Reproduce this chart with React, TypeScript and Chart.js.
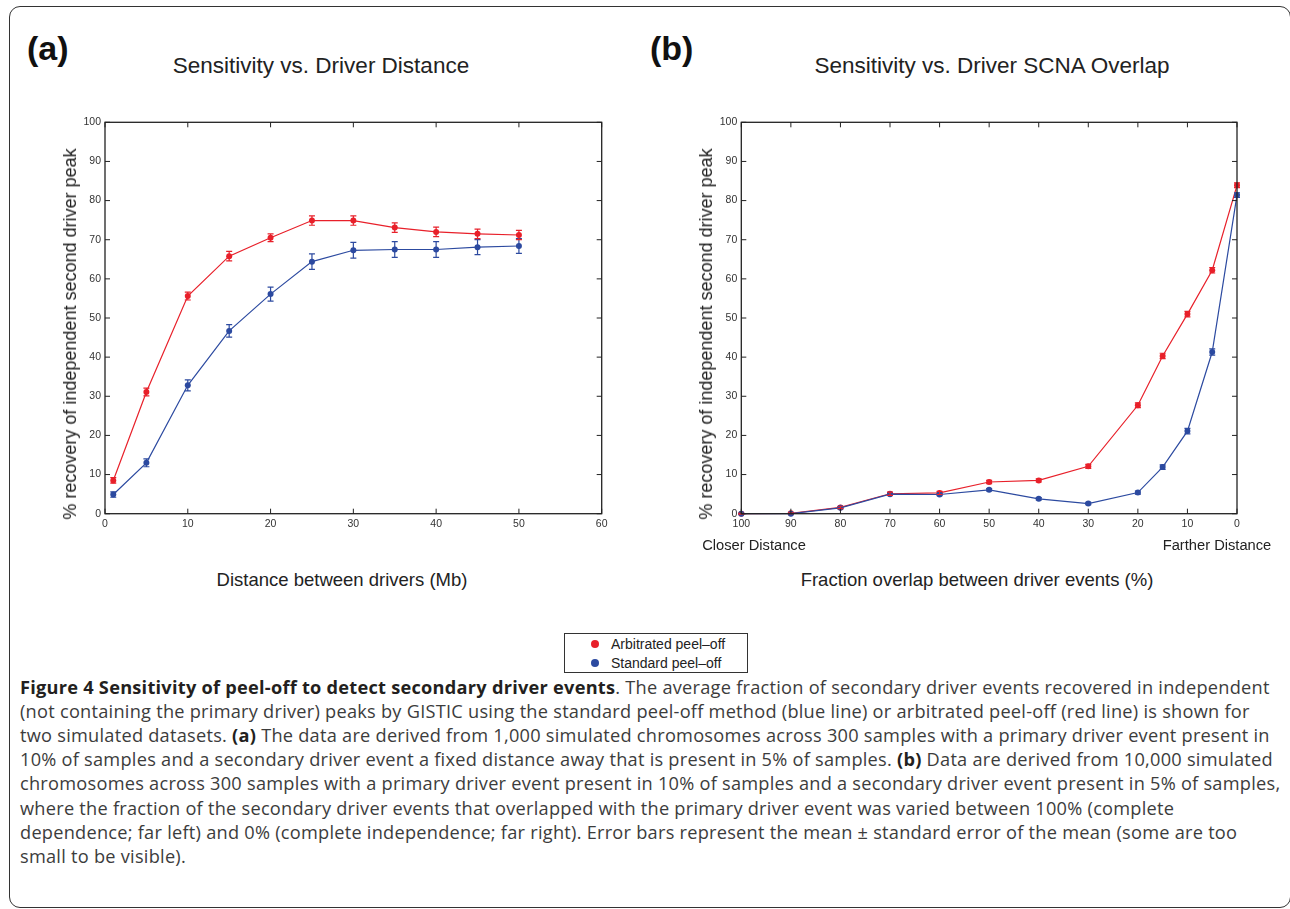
import React, { useEffect, useRef } from "react";
import { Chart, registerables } from "chart.js";

Chart.register(...registerables);

// ---------- data ----------
const distanceMb = [1, 5, 10, 15, 20, 25, 30, 35, 40, 45, 50];
const distArbitrated = [8.5, 31.1, 55.6, 65.8, 70.5, 74.9, 74.9, 73.1, 72.0, 71.5, 71.2];
const distArbitratedErr = [0.7, 1.0, 1.0, 1.2, 1.0, 1.2, 1.2, 1.2, 1.2, 1.2, 1.2];
const distStandard = [4.9, 13.0, 32.8, 46.7, 56.1, 64.4, 67.3, 67.5, 67.5, 68.1, 68.4];
const distStandardErr = [0.7, 1.0, 1.4, 1.6, 1.8, 2.0, 2.0, 2.0, 2.0, 1.9, 1.9];

const overlapPct = [100, 90, 80, 70, 60, 50, 40, 30, 20, 15, 10, 5, 0];
const overArbitrated = [0, 0.1, 1.6, 5.1, 5.3, 8.1, 8.5, 12.1, 27.7, 40.3, 51.0, 62.2, 83.9];
const overArbitratedErr = [0.1, 0.1, 0.3, 0.4, 0.4, 0.4, 0.4, 0.5, 0.6, 0.7, 0.7, 0.7, 0.6];
const overStandard = [0, 0, 1.5, 5.0, 4.9, 6.1, 3.8, 2.6, 5.4, 11.9, 21.1, 41.3, 81.4];
const overStandardErr = [0.1, 0.1, 0.3, 0.3, 0.3, 0.3, 0.3, 0.3, 0.4, 0.6, 0.7, 0.8, 0.6];

const seriesNames = ["Arbitrated peel\u2013off", "Standard peel\u2013off"];
const RED = "#e8202a";
const BLUE = "#2c4aa0";

const FONT = "'Liberation Sans', Arial, Helvetica, sans-serif";

const pairs = (xs: number[], ys: number[]) => xs.map((x, i) => ({ x, y: ys[i] }));

const matlabPlugin = {
  id: "matlabFrame",
  afterDatasetsDraw(chart: any) {
    const { ctx, scales } = chart;
    const x = scales.x;
    const y = scales.y;
    ctx.save();
    chart.data.datasets.forEach((ds: any) => {
      const errs: number[] = ds.errors;
      if (!errs) return;
      ctx.strokeStyle = ds.borderColor;
      ctx.lineWidth = 1.2;
      ds.data.forEach((p: any, j: number) => {
        const e = errs[j];
        const px = x.getPixelForValue(p.x);
        const y1 = y.getPixelForValue(p.y - e);
        const y2 = y.getPixelForValue(p.y + e);
        ctx.beginPath();
        ctx.moveTo(px, y1);
        ctx.lineTo(px, y2);
        ctx.moveTo(px - 3, y1);
        ctx.lineTo(px + 3, y1);
        ctx.moveTo(px - 3, y2);
        ctx.lineTo(px + 3, y2);
        ctx.stroke();
      });
    });
    ctx.restore();
  },
  afterDraw(chart: any) {
    const { ctx, chartArea: a, scales } = chart;
    ctx.save();
    ctx.strokeStyle = "#222";
    ctx.lineWidth = 1.3;
    ctx.strokeRect(a.left, a.top, a.right - a.left, a.bottom - a.top);
    ctx.lineWidth = 1;
    ctx.beginPath();
    scales.x.ticks.forEach((t: any) => {
      const px = scales.x.getPixelForValue(t.value);
      ctx.moveTo(px, a.bottom);
      ctx.lineTo(px, a.bottom - 5);
      ctx.moveTo(px, a.top);
      ctx.lineTo(px, a.top + 5);
    });
    scales.y.ticks.forEach((t: any) => {
      const py = scales.y.getPixelForValue(t.value);
      ctx.moveTo(a.left, py);
      ctx.lineTo(a.left + 5, py);
      ctx.moveTo(a.right, py);
      ctx.lineTo(a.right - 5, py);
    });
    ctx.stroke();
    ctx.restore();
  },
};

type PanelProps = {
  xs: number[];
  red: number[];
  redErr: number[];
  blue: number[];
  blueErr: number[];
  xMax: number;
  reverse: boolean;
  width: number;
  height: number;
  yAxisWidth: number;
  padRight: number;
  padTop: number;
  xAxisHeight: number;
};

function Panel(p: PanelProps) {
  const ref = useRef<HTMLCanvasElement>(null);
  useEffect(() => {
    if (!ref.current) return;
    const tickFont = { family: FONT, size: 10.5 };
    const chart = new Chart(ref.current, {
      type: "line",
      data: {
        datasets: [
          {
            label: seriesNames[1],
            data: pairs(p.xs, p.blue),
            errors: p.blueErr,
            borderColor: BLUE,
            backgroundColor: BLUE,
            pointBackgroundColor: BLUE,
            pointBorderWidth: 0,
            pointRadius: 3,
            borderWidth: 1.2,
            tension: 0,
            clip: false,
          } as any,
          {
            label: seriesNames[0],
            data: pairs(p.xs, p.red),
            errors: p.redErr,
            borderColor: RED,
            backgroundColor: RED,
            pointBackgroundColor: RED,
            pointBorderWidth: 0,
            pointRadius: 3,
            borderWidth: 1.2,
            tension: 0,
            clip: false,
          } as any,
        ],
      },
      options: {
        animation: false,
        responsive: false,
        maintainAspectRatio: false,
        layout: { padding: { left: 0, right: p.padRight, top: p.padTop, bottom: 0 } },
        plugins: { legend: { display: false }, tooltip: { enabled: false }, title: { display: false } },
        scales: {
          x: {
            type: "linear",
            min: 0,
            max: p.xMax,
            reverse: p.reverse,
            grid: { display: false, drawTicks: false },
            border: { display: false },
            ticks: { stepSize: 10, padding: 4, color: "#333", font: tickFont, maxRotation: 0, autoSkip: false },
            afterFit: (s: any) => {
              s.height = p.xAxisHeight;
            },
          },
          y: {
            type: "linear",
            min: 0,
            max: 100,
            grid: { display: false, drawTicks: false },
            border: { display: false },
            ticks: { stepSize: 10, padding: 4, color: "#333", font: tickFont },
            afterFit: (s: any) => {
              s.width = p.yAxisWidth;
            },
          },
        },
      } as any,
      plugins: [matlabPlugin],
    });
    return () => chart.destroy();
  }, []);
  return <canvas ref={ref} width={p.width} height={p.height} style={{ width: p.width, height: p.height, display: "block" }} />;
}

const abs = (left: number, top: number, extra: React.CSSProperties = {}): React.CSSProperties => ({
  position: "absolute",
  left,
  top,
  ...extra,
});

function CText(props: { x: number; y: number; size: number; children: React.ReactNode; rotate?: boolean; bold?: boolean; color?: string }) {
  return (
    <div
      style={{
        position: "absolute",
        left: props.x,
        top: props.y,
        transform: `translate(-50%, -50%)${props.rotate ? " rotate(-90deg)" : ""}`,
        fontFamily: FONT,
        fontSize: props.size,
        lineHeight: 1,
        whiteSpace: "nowrap",
        fontWeight: props.bold ? 700 : 400,
        color: props.color || "#222",
      }}
    >
      {props.children}
    </div>
  );
}

const B = (s: string) => <b style={{ color: "#231f20", fontWeight: 700 }}>{s}</b>;

const captionLines: React.ReactNode[] = [
  <>
    {B("Figure 4 Sensitivity of peel-off to detect secondary driver events")}. The average fraction of secondary driver events recovered in independent
  </>,
  <>(not containing the primary driver) peaks by GISTIC using the standard peel-off method (blue line) or arbitrated peel-off (red line) is shown for</>,
  <>
    two simulated datasets. {B("(a)")} The data are derived from 1,000 simulated chromosomes across 300 samples with a primary driver event present in
  </>,
  <>
    10% of samples and a secondary driver event a fixed distance away that is present in 5% of samples. {B("(b)")} Data are derived from 10,000 simulated
  </>,
  <>chromosomes across 300 samples with a primary driver event present in 10% of samples and a secondary driver event present in 5% of samples,</>,
  <>where the fraction of the secondary driver events that overlapped with the primary driver event was varied between 100% (complete</>,
  <>dependence; far left) and 0% (complete independence; far right). Error bars represent the mean ± standard error of the mean (some are too</>,
  <>small to be visible).</>,
];

export default function App() {
  return (
    <div style={{ position: "absolute", left: 0, top: 0, width: 1290, height: 909, overflow: "hidden", background: "#fff" }}>
      <div
        style={abs(9, 6, {
          width: 1282,
          height: 902,
          border: "1.5px solid #333",
          borderRadius: 11,
          boxSizing: "border-box",
        })}
      />
      <div style={abs(27, 31, { fontFamily: FONT, fontWeight: 700, fontSize: 34, lineHeight: "34px", color: "#111" })}>(a)</div>
      <div style={abs(650, 31, { fontFamily: FONT, fontWeight: 700, fontSize: 34, lineHeight: "34px", color: "#111" })}>(b)</div>

      <CText x={321} y={66} size={22.5}>Sensitivity vs. Driver Distance</CText>
      <CText x={992} y={66} size={22.5}>Sensitivity vs. Driver SCNA Overlap</CText>

      <div style={abs(0, 100)}>
        <Panel
          xs={distanceMb}
          red={distArbitrated}
          redErr={distArbitratedErr}
          blue={distStandard}
          blueErr={distStandardErr}
          xMax={60}
          reverse={false}
          width={640}
          height={440}
          yAxisWidth={105}
          padRight={38.3}
          padTop={22.3}
          xAxisHeight={26.3}
        />
      </div>
      <div style={abs(640, 100)}>
        <Panel
          xs={overlapPct}
          red={overArbitrated}
          redErr={overArbitratedErr}
          blue={overStandard}
          blueErr={overStandardErr}
          xMax={100}
          reverse={true}
          width={650}
          height={440}
          yAxisWidth={101.3}
          padRight={53}
          padTop={22.3}
          xAxisHeight={26.3}
        />
      </div>

      <CText x={70} y={334} size={18} rotate>% recovery of independent second driver peak</CText>
      <CText x={706} y={334} size={18} rotate>% recovery of independent second driver peak</CText>
      <CText x={342} y={580} size={18.5}>Distance between drivers (Mb)</CText>
      <CText x={977} y={580} size={18.5}>Fraction overlap between driver events (%)</CText>
      <CText x={754} y={545} size={14.7}>Closer Distance</CText>
      <CText x={1217} y={545} size={14.7}>Farther Distance</CText>

      <div style={abs(564, 633, { width: 184, height: 40, border: "1px solid #333", boxSizing: "border-box" })} />
      <div style={abs(591, 640, { width: 8, height: 8, borderRadius: 4, background: RED })} />
      <div style={abs(591, 659, { width: 8, height: 8, borderRadius: 4, background: BLUE })} />
      <div style={abs(611, 636, { fontFamily: FONT, fontSize: 14, lineHeight: "16px", color: "#222", whiteSpace: "nowrap" })}>{seriesNames[0]}</div>
      <div style={abs(611, 655, { fontFamily: FONT, fontSize: 14, lineHeight: "16px", color: "#222", whiteSpace: "nowrap" })}>{seriesNames[1]}</div>

      {captionLines.map((ln, i) => (
        <div
          key={i}
          style={abs(20, 675 + i * 24.1, {
            fontFamily: "'Open Sans', 'Noto Sans', sans-serif",
            fontSize: 18.2,
            letterSpacing: 0.25,
            lineHeight: "24px",
            color: "#3c3c3c",
            whiteSpace: "nowrap",
          })}
        >
          {ln}
        </div>
      ))}
    </div>
  );
}
